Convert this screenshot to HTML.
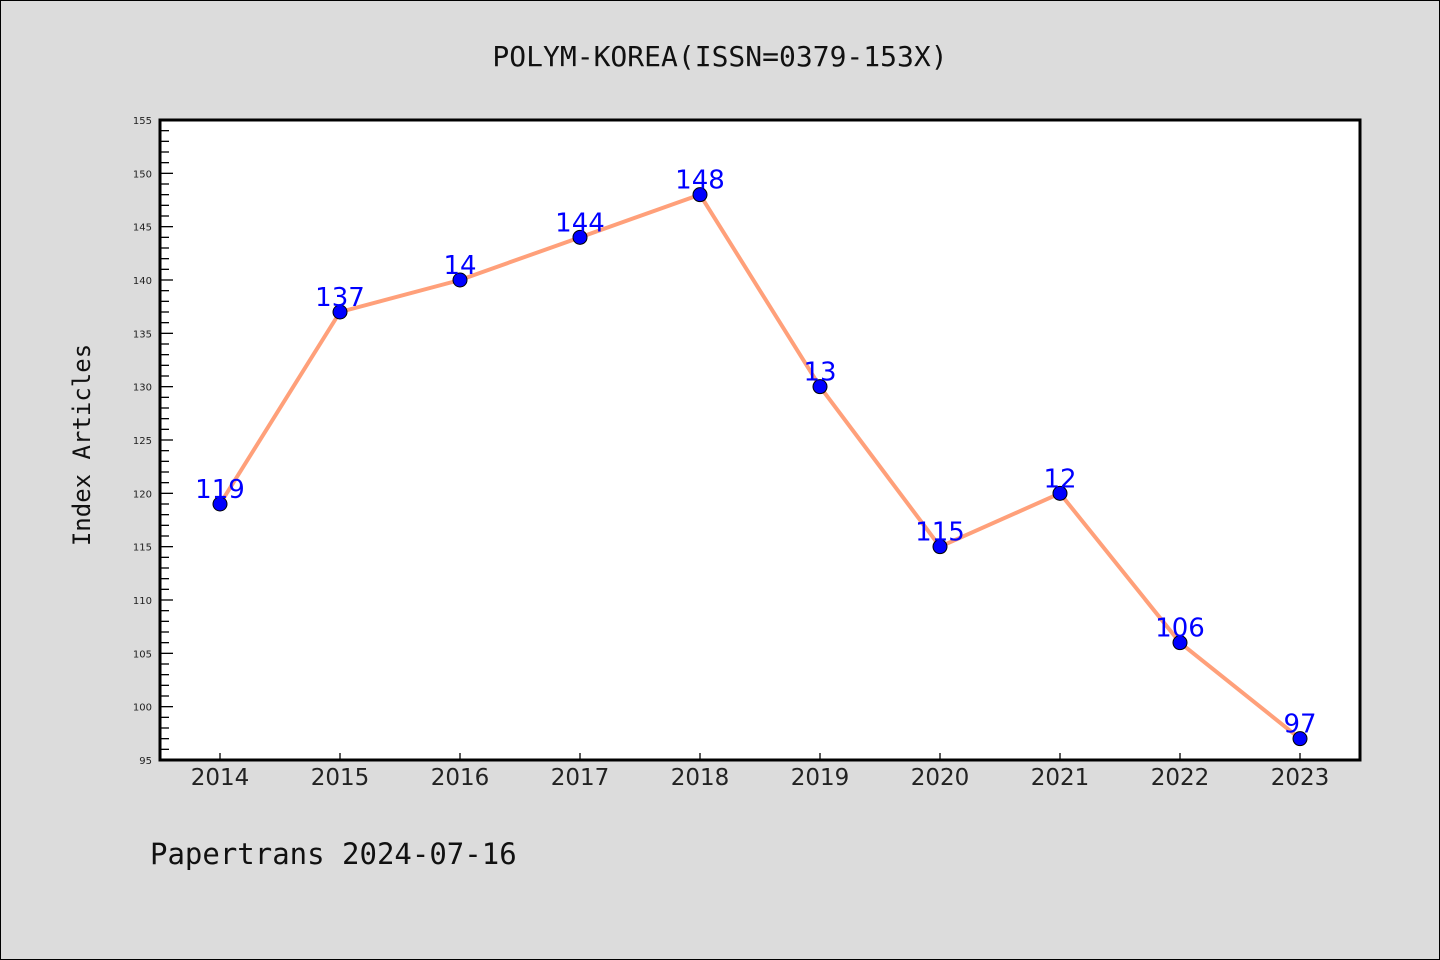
<!DOCTYPE html>
<html><head><meta charset="utf-8"><style>
html,body{margin:0;padding:0;background:#dcdcdc;}
svg{display:block;}
</style></head><body>
<svg id="chart" width="1440" height="960" xmlns="http://www.w3.org/2000/svg">
<rect x="0.5" y="0.5" width="1439" height="959" fill="#dcdcdc" stroke="#000"/>
<text x="720" y="66" text-anchor="middle" font-family="'DejaVu Sans Mono','Liberation Mono','Noto Sans CJK SC',monospace" font-size="28" fill="#111">POLYM-KOREA(ISSN=0379-153X)</text>
<rect x="160" y="120" width="1200" height="640" fill="#fff"/>
<g id="axes"></g>
<g id="series"></g>
<rect x="160" y="120" width="1200" height="640" fill="none" stroke="#000" stroke-width="3"/>
<text transform="translate(90,445) rotate(-90)" text-anchor="middle" font-family="'DejaVu Sans Mono','Liberation Mono',monospace" font-size="24" fill="#111">Index Articles</text>
<text x="150" y="864" font-family="'DejaVu Sans Mono','Liberation Mono',monospace" font-size="29" fill="#111">Papertrans 2024-07-16</text>
</svg>
<script>
const categories = ["2014","2015","2016","2017","2018","2019","2020","2021","2022","2023"];
const values = [119,137,140,144,148,130,115,120,106,97];
const valueLabels = ["119","137","14","144","148","13","115","12","106","97"];
const yTicks = [95,100,105,110,115,120,125,130,135,140,145,150,155];

const NS="http://www.w3.org/2000/svg";
const X0=160,X1=1360,Y0=120,Y1=760,YMIN=95,YMAX=155;
function xs(i){return X0+60+i*(X1-X0-120)/(categories.length-1);}
function ys(v){return Y1-(v-YMIN)/(YMAX-YMIN)*(Y1-Y0);}
function mk(t,a,p){const e=document.createElementNS(NS,t);for(const k in a)e.setAttribute(k,a[k]);p.appendChild(e);return e;}
const axes=document.getElementById('axes'), ser=document.getElementById('series');
for(let v=YMIN;v<=YMAX;v++){
  const major=(v%5===0);
  const y=ys(v);
  const l=mk('line',{x1:X0,x2:X0+(major?13:9),y1:y,y2:y,stroke:'#000','stroke-width':1.3},axes);
  
  
}
yTicks.forEach(v=>{
  const t=mk('text',{x:X0-8,y:ys(v)+4,'text-anchor':'end','font-family':"'DejaVu Sans','Liberation Sans',sans-serif",'font-size':10,fill:'#222'},axes);
  t.textContent=v;
  
  
});
categories.forEach((c,i)=>{
  const l=mk('line',{x1:xs(i),x2:xs(i),y1:Y1,y2:Y1-7,stroke:'#000','stroke-width':1.3},axes);
  
  
  const t=mk('text',{x:xs(i),y:785,'text-anchor':'middle','font-family':"'DejaVu Sans','Liberation Sans',sans-serif",'font-size':23,fill:'#222'},axes);
  t.textContent=c;
  
  
});
const pl=mk('polyline',{points:values.map((v,i)=>xs(i)+','+ys(v)).join(' '),fill:'none',stroke:'#ffa07a','stroke-width':4,'stroke-linejoin':'round'},ser);


values.forEach((v,i)=>{
  const c=mk('circle',{cx:xs(i),cy:ys(v),r:7,fill:'#0000ff',stroke:'#000','stroke-width':1},ser);
  
  
  const t=mk('text',{x:xs(i),y:ys(v)-6,'text-anchor':'middle','font-family':"'DejaVu Sans','Liberation Sans',sans-serif",'font-size':26,fill:'#0000ff'},ser);
  t.textContent=valueLabels[i];
  
  
});
</script>
</body></html>
